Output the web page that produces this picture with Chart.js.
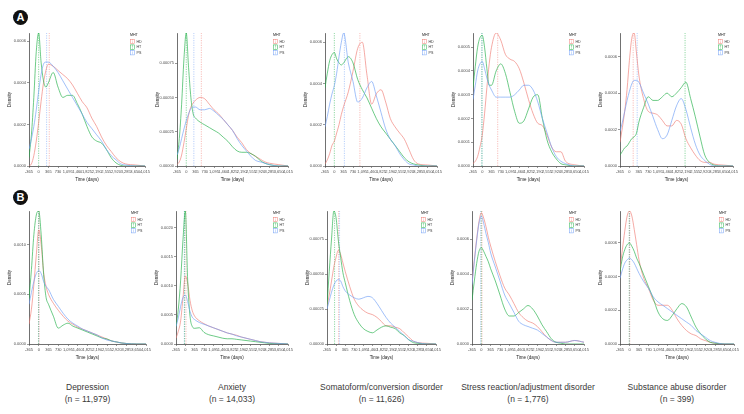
<!DOCTYPE html>
<html>
<head>
<meta charset="utf-8">
<script src="https://cdn.jsdelivr.net/npm/chart.js@4.4.1/dist/chart.umd.min.js"></script>
<style>
body { margin: 0; background: #fff; width: 744px; height: 414px; position: relative; overflow: hidden; font-family: "Liberation Sans", Arial, sans-serif; }
canvas { position: absolute; }
.badge { position: absolute; width: 15px; height: 15px; border-radius: 50%; background: #111; color: #fff; font-weight: bold; font-size: 11px; line-height: 15px; text-align: center; }
.title { position: absolute; width: 180px; text-align: center; font-size: 8.5px; line-height: 12px; color: #3a3a3a; }
</style>
</head>
<body>
<div class="badge" style="left:13px;top:10px">A</div>
<div class="badge" style="left:13px;top:190px">B</div>

<script>
// x grid (days) shared by every density curve
const xDays = [-365,-274,-183,-91,0,91,183,274,365,548,730,913,1095,1278,1460,1643,1825,2008,2190,2373,2555,2738,2920,3103,3285,3650,4015];
const groups = ['HD', 'HT', 'PS'];
const titles = ['Depression', 'Anxiety', 'Somatoform/conversion disorder', 'Stress reaction/adjustment disorder', 'Substance abuse disorder'];
const counts = ['(n = 11,979)', '(n = 14,033)', '(n = 11,626)', '(n = 1,776)', '(n = 399)'];

// ---- row A ----
const depA_HD = [0,0.00001,0.00005,0.00012,0.00021,0.00031,0.0004,0.00046,0.00049, 0.00048,0.00046,0.00044,0.00042,0.00039,0.00035,0.00031,0.00028,0.00023,0.00019,0.00014,0.0001,0.00007,0.00004, 0.00002,0.00001,0.000005,0];
const depA_HT = [0.00004,0.00015,0.00033,0.00055,0.00064,0.0005,0.00041,0.00038,0.0004, 0.00045,0.00038,0.00033,0.00034,0.00034,0.0003,0.00025,0.00019,0.00014,0.00012,0.00011,0.00008,0.00004,0.000015, 0.000003,0,0,0];
const depA_PS = [0.00008,0.00013,0.00019,0.00027,0.00036,0.00044,0.00049,0.0005,0.0005, 0.00048,0.00045,0.00041,0.00037,0.00033,0.00029,0.00025,0.00021,0.00018,0.00015,0.00012,0.00008,0.00005,0.00003, 0.00001,0.000005,0,0];

const anxA_HD = [0.00001,0.00003,0.00008,0.00017,0.00027,0.00037,0.00043,0.00046,0.00048, 0.0005,0.00049,0.00045,0.00041,0.00038,0.00034,0.0003,0.00026,0.00021,0.00017,0.00012,0.00009,0.00007,0.00005, 0.00003,0.00002,0.00001,0];
const anxA_HT = [0.00005,0.0002,0.00045,0.00078,0.00097,0.00072,0.0005,0.00038,0.00035, 0.00032,0.0003,0.00028,0.00026,0.00024,0.00021,0.00018,0.00014,0.00011,0.0001,0.0001,0.00009,0.00007,0.00004, 0.00002,0.00001,0,0];
const anxA_PS = [0.00008,0.00013,0.0002,0.00027,0.00033,0.00038,0.00042,0.00043,0.00043, 0.00041,0.00041,0.00042,0.0004,0.00037,0.00034,0.0003,0.00026,0.0002,0.00015,0.00011,0.00007,0.00004,0.00003, 0.00002,0.00001,0,0];

const somA_HD = [0.00001,0.00003,0.00006,0.0001,0.00012,0.00016,0.0002,0.00025,0.00029, 0.00036,0.00046,0.00057,0.0006,0.00044,0.0003,0.00035,0.00037,0.00031,0.00023,0.00019,0.00016,0.00013,0.00008, 0.00003,0.00001,0.000005,0];
const somA_HT = [0.00038,0.00045,0.00051,0.00054,0.00055,0.00052,0.0005,0.00049,0.0005, 0.00053,0.0005,0.00042,0.00037,0.00033,0.00028,0.00023,0.00019,0.00016,0.00013,0.0001,0.00007,0.00004,0.00002, 0.00001,0.000005,0,0];
const somA_PS = [0.00019,0.00024,0.0003,0.00035,0.00039,0.00045,0.00053,0.0006,0.000645, 0.0005,0.00041,0.00031,0.00033,0.00038,0.00041,0.00034,0.00026,0.00018,0.00013,0.0001,0.00006,0.00003,0.00001, 0.000005,0,0,0];

const strA_HD = [0.00001,0.00002,0.00004,0.00008,0.00013,0.00022,0.00033,0.00043,0.0005, 0.00056,0.00053,0.00047,0.00045,0.00044,0.00041,0.00035,0.00028,0.00022,0.00018,0.00017,0.00013,0.00008,0.00006, 0.00006,0.00002,0.000005,0];
const strA_HT = [0.00033,0.00042,0.0005,0.00054,0.00055,0.0005,0.00041,0.00034,0.00034, 0.0004,0.00043,0.00039,0.00031,0.00023,0.00018,0.00019,0.00024,0.00029,0.0003,0.0002,0.00011,0.00006,0.00003, 0.00001,0.000005,0,0];
const strA_PS = [0.00028,0.00034,0.0004,0.00043,0.00044,0.00041,0.00037,0.00034,0.00032, 0.00029,0.00029,0.00029,0.00029,0.0003,0.00032,0.00034,0.00034,0.00032,0.00027,0.0002,0.00014,0.00008,0.00004, 0.00002,0.00001,0,0];

const subA_HD = [0.00013,0.00021,0.0003,0.00042,0.00058,0.0007,0.00073,0.00062,0.0005, 0.00037,0.0003,0.00029,0.00028,0.00025,0.00022,0.00022,0.00025,0.00023,0.00015,0.0001,0.00006,0.00003,0.00002, 0.00002,0.00001,0.000005,0];
const subA_HT = [0.00006,0.00008,0.0001,0.00011,0.00013,0.00015,0.00016,0.00018,0.00024, 0.00032,0.00038,0.00036,0.00036,0.00038,0.0004,0.00038,0.0004,0.00043,0.00046,0.00037,0.00027,0.00016,0.00006, 0.00002,0.000005,0,0];
const subA_PS = [0.00019,0.00024,0.0003,0.00036,0.00041,0.00045,0.00047,0.00047,0.00046, 0.0004,0.00034,0.00027,0.0002,0.00015,0.00017,0.00025,0.00033,0.00037,0.00031,0.00021,0.00012,0.00006,0.00003, 0.00001,0,0,0];

// ---- row B ----
const depB_HD = [0.0002,0.00035,0.0006,0.0009,0.00115,0.001,0.00072,0.00058,0.0005, 0.00041,0.00034,0.00028,0.00023,0.0002,0.00017,0.00015,0.00013,0.00011,0.00009,0.00007,0.00005,0.00003,0.00002, 0.00001,0.000005,0,0];
const depB_HT = [0.00045,0.00075,0.0011,0.0013,0.00134,0.0011,0.0007,0.00047,0.0004, 0.00028,0.00016,0.00019,0.00021,0.00018,0.00016,0.00014,0.00012,0.0001,0.00008,0.00006,0.00005,0.00003,0.00002, 0.00001,0.000005,0,0];
const depB_PS = [0.0004,0.00052,0.00063,0.00071,0.00074,0.00071,0.00063,0.00058,0.00055, 0.00045,0.00038,0.00031,0.00025,0.00021,0.00018,0.00015,0.00013,0.00011,0.00009,0.00006,0.00004,0.00003,0.00002, 0.00001,0.000005,0,0];

const anxB_HD = [0.0001,0.00022,0.0004,0.0008,0.00117,0.00105,0.00075,0.00057,0.00048, 0.0004,0.00035,0.00031,0.00028,0.00025,0.00022,0.00019,0.00017,0.00015,0.00012,0.0001,0.00008,0.00006,0.00004, 0.00003,0.00002,0.00001,0];
const anxB_HT = [0.0003,0.0006,0.0011,0.0018,0.00229,0.0011,0.00048,0.0003,0.00027, 0.00028,0.0002,0.00016,0.00014,0.00012,0.0001,0.00009,0.00009,0.00008,0.00007,0.00006,0.00005,0.00004,0.00003, 0.00002,0.00001,0.000005,0];
const anxB_PS = [0.0003,0.00045,0.00065,0.0008,0.00084,0.00073,0.00056,0.00046,0.00042, 0.00037,0.00034,0.00031,0.00028,0.00025,0.00022,0.00019,0.00017,0.00014,0.00012,0.0001,0.00008,0.00006,0.00004, 0.00003,0.00002,0.00001,0];

const somB_HD = [0.00027,0.00035,0.00045,0.00055,0.00062,0.00067,0.00064,0.00058,0.00052, 0.00041,0.00032,0.00027,0.00024,0.00022,0.00021,0.00019,0.00016,0.00013,0.00013,0.00012,0.00011,0.00008,0.00005, 0.00002,0.00001,0.000005,0];
const somB_HT = [0.00027,0.00052,0.00075,0.00095,0.0009,0.00074,0.00062,0.00051,0.00044, 0.00031,0.00021,0.00015,0.00011,0.00009,0.00008,0.0001,0.00012,0.00013,0.00012,0.00011,0.00008,0.00006,0.00003, 0.00001,0.000005,0,0];
const somB_PS = [0.00025,0.00031,0.00037,0.00042,0.00045,0.00046,0.00045,0.00041,0.00038, 0.00035,0.00033,0.00032,0.00033,0.00034,0.00033,0.00029,0.00024,0.00019,0.00015,0.00012,0.00009,0.00006,0.00003, 0.00002,0.00001,0,0];

const strB_HD = [0.00035,0.00048,0.0006,0.0007,0.00075,0.00072,0.00067,0.00061,0.00056, 0.00047,0.00039,0.00032,0.00028,0.00023,0.00018,0.00015,0.00013,0.00012,0.0001,0.00007,0.00004,0.00002,0.00001, 0.00001,0.00001,0.00002,0.00001];
const strB_HT = [0.00025,0.00036,0.00046,0.00053,0.00055,0.00053,0.0005,0.00047,0.00043, 0.00036,0.00028,0.0002,0.00016,0.00016,0.00018,0.0002,0.00022,0.0002,0.00016,0.00011,0.00007,0.00003,0.00001, 0.000005,0,0,0];
const strB_PS = [0.00034,0.00047,0.00059,0.00069,0.00073,0.00069,0.00063,0.00058,0.00052, 0.00044,0.00036,0.00028,0.00023,0.00018,0.00013,0.00011,0.0001,0.00009,0.00008,0.00006,0.00004,0.00002,0.00001, 0.00001,0.00001,0.00002,0.00001];

const subB_HD = [0.00044,0.00056,0.00067,0.00076,0.00079,0.00076,0.00068,0.00059,0.0005, 0.00039,0.00033,0.00026,0.00023,0.00023,0.00023,0.0002,0.00015,0.00011,0.00008,0.00006,0.00005,0.00003,0.00002, 0.00001,0.000005,0,0];
const subB_HT = [0.00043,0.00051,0.00056,0.00059,0.0006,0.00058,0.00055,0.00051,0.00048, 0.00041,0.00034,0.00027,0.00019,0.00015,0.00014,0.00017,0.00021,0.00024,0.00022,0.00016,0.0001,0.00006,0.00003, 0.00001,0.000005,0,0];
const subB_PS = [0.00039,0.00044,0.00048,0.0005,0.00051,0.0005,0.00048,0.00045,0.00042, 0.00037,0.00033,0.00028,0.00025,0.00023,0.00021,0.00019,0.00017,0.00015,0.00013,0.00011,0.00008,0.00006,0.00004, 0.00002,0.00001,0,0];

// peak (mode) positions, days, order HD, HT, PS
const modesA = [[400, 0, 300], [595, 0, 300], [1000, 0, 393], [610, -12, -12], [146, 2157, 301]];
const modesB = [[15, -10, 0], [25, -28, -40], [100, -60, 140], [26, 0, -26], [10, -10, 0]];

// y axis: top value, tick step, decimals
const yMaxA = [0.00064, 0.00097, 0.000645, 0.00056, 0.00073];
const yMaxB = [0.00134, 0.00229, 0.00095, 0.00076, 0.00079];
const yStepA = [0.0002, 0.00025, 0.0002, 0.0001, 0.0002];
const yStepB = [0.0005, 0.0005, 0.00025, 0.0002, 0.0002];
const yDecA = [4, 5, 4, 4, 4];
const yDecB = [4, 4, 5, 4, 4];

const seriesA = [[depA_HD, depA_HT, depA_PS], [anxA_HD, anxA_HT, anxA_PS], [somA_HD, somA_HT, somA_PS], [strA_HD, strA_HT, strA_PS], [subA_HD, subA_HT, subA_PS]];
const seriesB = [[depB_HD, depB_HT, depB_PS], [anxB_HD, anxB_HT, anxB_PS], [somB_HD, somB_HT, somB_PS], [strB_HD, strB_HT, strB_PS], [subB_HD, subB_HT, subB_PS]];

// layout (page pixels of each plot area)
const plotLeftA = [29, 177, 325, 473, 620];
const plotRightA = [145, 288, 437, 584, 733];
const plotLeftB = [29, 176, 327, 472, 620];
const plotRightB = [146, 288, 436, 584, 734];
const rowTop = [33, 211];
const rowBottom = [166, 344];

const colors = ['#F07C74', '#1FAF45', '#6E9EF5'];
const FONT = '"Liberation Sans", Arial, sans-serif';
const Y_W = 22, PAD_T = 5, PAD_R = 8, X_H = 16;

// legend drawn inside the top right corner of each panel
const mhtLegend = {
    id: 'mhtLegend',
    afterDatasetsDraw(chart) {
        const { ctx, chartArea } = chart;
        const x0 = chartArea.right - 15;
        const y0 = chartArea.top + 2;
        ctx.save();
        ctx.textBaseline = 'middle';
        ctx.font = '3.6px ' + FONT;
        ctx.fillStyle = '#222';
        ctx.fillText('MHT', x0, y0);
        groups.forEach((g, i) => {
            const cy = y0 + 6.5 + i * 5.6;
            ctx.fillStyle = '#ffffff';
            ctx.fillRect(x0, cy - 2.5, 5, 5);
            ctx.strokeStyle = colors[i];
            ctx.lineWidth = 0.5;
            ctx.setLineDash([]);
            ctx.strokeRect(x0 + 0.3, cy - 2.2, 4.4, 4.4);
            ctx.setLineDash([0.8, 0.6]);
            ctx.beginPath();
            ctx.moveTo(x0 + 2.5, cy - 2.2);
            ctx.lineTo(x0 + 2.5, cy + 2.2);
            ctx.stroke();
            ctx.fillStyle = '#333';
            ctx.fillText(g, x0 + 6.5, cy);
        });
        ctx.restore();
    }
};

function makePanel(left, right, top, bottom, series, modes, yMax, yStep, yDec) {
    const canvas = document.createElement('canvas');
    const w = Y_W + (right - left) + PAD_R;
    const h = PAD_T + (bottom - top) + X_H;
    canvas.width = w;
    canvas.height = h;
    canvas.style.left = (left - Y_W) + 'px';
    canvas.style.top = (top - PAD_T) + 'px';
    canvas.style.width = w + 'px';
    canvas.style.height = h + 'px';
    document.body.appendChild(canvas);

    const datasets = [];
    // dashed mode lines drawn below the curves
    modes.forEach((m, i) => {
        datasets.push({
            data: [{ x: m, y: 0 }, { x: m, y: yMax }],
            borderColor: colors[i],
            borderWidth: 0.5,
            borderDash: [1.2, 1.2],
            pointRadius: 0,
            order: 5
        });
    });
    series.forEach((arr, i) => {
        datasets.push({
            label: groups[i],
            data: xDays.map((x, k) => ({ x: x, y: arr[k] })),
            borderColor: colors[i],
            borderWidth: 0.65,
            pointRadius: 0,
            cubicInterpolationMode: 'monotone',
            order: 3 - i
        });
    });

    new Chart(canvas.getContext('2d'), {
        type: 'line',
        data: { datasets: datasets },
        plugins: [mhtLegend],
        options: {
            responsive: false,
            animation: false,
            events: [],
            layout: { padding: { top: PAD_T, right: PAD_R, left: 0, bottom: 0 } },
            plugins: { legend: { display: false }, tooltip: { enabled: false } },
            scales: {
                x: {
                    type: 'linear',
                    min: -365,
                    max: 4015,
                    afterFit: s => { s.height = X_H; },
                    ticks: {
                        stepSize: 365,
                        autoSkip: false,
                        maxRotation: 0,
                        padding: 1,
                        color: '#4d4d4d',
                        font: { size: 4, family: FONT },
                        callback: v => v.toLocaleString('en-US')
                    },
                    grid: { drawOnChartArea: false, tickLength: 2, color: '#333', lineWidth: 0.5 },
                    border: { color: '#333', width: 0.7 },
                    title: { display: true, text: 'Time (days)', color: '#222', padding: 0, font: { size: 4.5, family: FONT } }
                },
                y: {
                    type: 'linear',
                    min: 0,
                    max: yMax,
                    afterFit: s => { s.width = Y_W; },
                    ticks: {
                        stepSize: yStep,
                        includeBounds: false,
                        padding: 1,
                        color: '#4d4d4d',
                        font: { size: 4, family: FONT },
                        callback: v => v.toFixed(yDec)
                    },
                    grid: { drawOnChartArea: false, tickLength: 2, color: '#333', lineWidth: 0.5 },
                    border: { color: '#333', width: 0.7 },
                    title: { display: true, text: 'Density', color: '#222', padding: 0, font: { size: 4.5, family: FONT } }
                }
            }
        }
    });
}

for (let i = 0; i < 5; i++) {
    makePanel(plotLeftA[i], plotRightA[i], rowTop[0], rowBottom[0], seriesA[i], modesA[i], yMaxA[i], yStepA[i], yDecA[i]);
    makePanel(plotLeftB[i], plotRightB[i], rowTop[1], rowBottom[1], seriesB[i], modesB[i], yMaxB[i], yStepB[i], yDecB[i]);

    const t = document.createElement('div');
    t.className = 'title';
    t.style.left = ((plotLeftB[i] + plotRightB[i]) / 2 - 90) + 'px';
    t.style.top = '381px';
    t.innerHTML = titles[i] + '<br>' + counts[i];
    document.body.appendChild(t);
}
</script>
</body>
</html>
